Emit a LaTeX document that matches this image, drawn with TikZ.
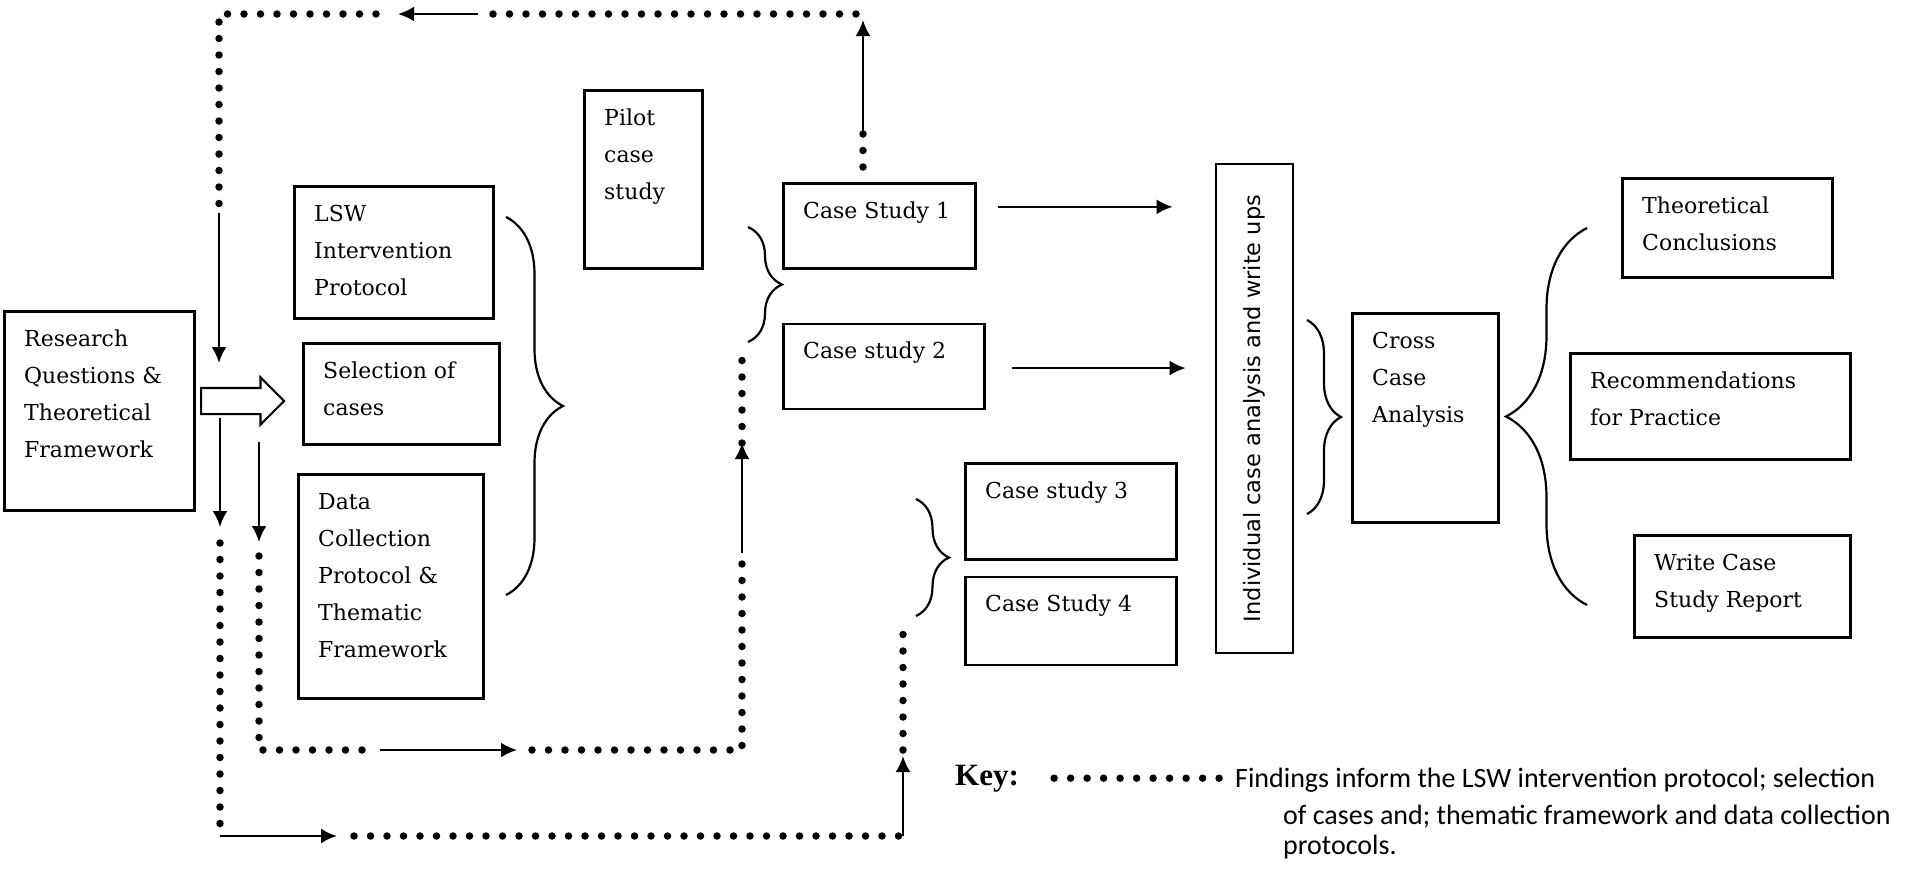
\documentclass[tikz,border=0pt]{standalone}
\usepackage{fontspec}
\setmainfont{DejaVu Serif}
\newfontfamily\notefont{Carlito}
\newfontfamily\sidefont{DejaVu Sans}
\newfontfamily\keyfont{Liberation Serif}
\usetikzlibrary{shapes.arrows,arrows.meta,positioning,decorations.pathreplacing}
\tikzset{block/.style={draw, 
                       rectangle, 
                       line width=2.7pt,
                       anchor=north west,
                       inner sep=0pt},
         boxtext/.style={anchor=north west,
                         align=left,
                         inner xsep=21pt,
                         inner ysep=10pt,
                         font=\fontsize{22}{37}\selectfont},
         link/.style={->, line width=2.5pt},
         dotline/.style={line width=7.5pt, line cap=round, dash pattern=on 0pt off 16.5pt},
         curly/.style={decorate, line width=2.2pt},
         input/.style={coordinate}}

\begin{document}
\begin{tikzpicture}[auto,>={Latex[length=16pt,width=15pt]},x=1pt,y=-1pt]
    \path[use as bounding box, fill=white] (0,0) rectangle (1928,868);
    % We start by placing the blocks
    \node [block, minimum width=190pt, minimum height=199pt,
           label={[boxtext]north west:{\strut Research\\Questions \&\\Theoretical\\Framework}}] (res) at (3,310) {};
    \node [single arrow, draw, line width=2.2pt, minimum height=83pt, inner xsep=0pt, inner ysep=12pt,
           single arrow head extend=10.5pt, anchor=tail] (push) at (200,401) {};
    \node [block, minimum width=199pt, minimum height=132pt,
           label={[boxtext]north west:{\strut LSW\\Intervention\\Protocol}}] (lsw) at (293,185) {};
    \node [block, minimum width=196pt, minimum height=101pt,
           label={[boxtext]north west:{\strut Selection of\\cases}}] (sel) at (302,342) {};
    \node [block, minimum width=185pt, minimum height=224pt,
           label={[boxtext]north west:{\strut Data\\Collection\\Protocol \&\\Thematic\\Framework}}] (data) at (297,473) {};
    \node [block, minimum width=118pt, minimum height=178pt,
           label={[boxtext]north west:{\strut Pilot\\case\\study}}] (pilot) at (583,89) {};
    \node [block, minimum width=192pt, minimum height=85pt,
           label={[boxtext]north west:{\strut Case Study 1}}] (cs1) at (782,182) {};
    \node [block, below=53pt of cs1.south west, anchor=north west, minimum width=201pt, minimum height=85pt,
           label={[boxtext]north west:{\strut Case study 2}}] (cs2) {};
    \node [block, minimum width=211pt, minimum height=96pt,
           label={[boxtext]north west:{\strut Case study 3}}] (cs3) at (964,462) {};
    \node [block, below=15pt of cs3.south west, anchor=north west, minimum width=211pt, minimum height=88pt,
           label={[boxtext]north west:{\strut Case Study 4}}] (cs4) {};
    \node [block, anchor=center, rotate=90, minimum width=489pt, minimum height=77pt,
           font=\sidefont\fontsize{22.5}{27}\selectfont] (ind) at (1254.5,408.5) {Individual case analysis and write ups};
    \node [block, minimum width=146pt, minimum height=209pt,
           label={[boxtext]north west:{\strut Cross\\Case\\Analysis}}] (cross) at (1351,312) {};
    \node [block, minimum width=210pt, minimum height=99pt,
           label={[boxtext]north west:{\strut Theoretical\\Conclusions}}] (theo) at (1621,177) {};
    \node [block, minimum width=280pt, minimum height=106pt,
           label={[boxtext]north west:{\strut Recommendations\\for Practice}}] (rec) at (1569,352) {};
    \node [block, minimum width=216pt, minimum height=102pt,
           label={[boxtext]north west:{\strut Write Case\\Study Report}}] (write) at (1633,534) {};
    % Braces
    \draw [curly, decoration={brace, amplitude=57pt}] (506,217) -- (506,595);
    \draw [curly, decoration={brace, amplitude=34pt}] (748,227) -- (748,342);
    \draw [curly, decoration={brace, amplitude=33pt}] (916,499) -- (916,616);
    \draw [curly, decoration={brace, amplitude=34pt}] (1307,320) -- (1307,514);
    \draw [curly, decoration={brace, amplitude=81pt}] (1587,605) -- (1587,228);
    % We draw an edge from the case studies to the write ups
    \draw [link, shorten <=21pt, shorten >=42pt] ([yshift=19pt]cs1.east) -- ([yshift=19pt]cs1.east -| ind.north);
    \draw [link, shorten <=26pt, shorten >=29pt] ([yshift=-1.5pt]cs2.east) -- ([yshift=-1.5pt]cs2.east -| ind.north);
    % Feedback loop from the first case study
    \node [input, name=up1] at (863,167) {};
    \node [input, name=up2] at (863,132) {};
    \node [input, name=up3] at (863,20) {};
    \node [input, name=tr] at (856,14) {};
    \node [input, name=t1] at (478,14) {};
    \node [input, name=t2] at (398,14) {};
    \node [input, name=t3] at (376,14) {};
    \node [input, name=tl] at (219,14) {};
    \node [input, name=l1] at (219,213) {};
    \node [input, name=l2] at (219,363) {};
    \draw [dotline] (up1) -- (up2);
    \draw [link] (up2) -- (up3);
    \draw [dotline] (tr) -- (t1);
    \draw [link] (t1) -- (t2);
    \draw [dotline] (t3) -- (tl) -- (l1);
    \draw [link] (l1) -- (l2);
    % Loop to case studies 3 and 4
    \node [input, name=b0] at (220,418) {};
    \node [input, name=b1] at (220,527) {};
    \node [input, name=b2] at (220,543) {};
    \node [input, name=bl] at (220,836) {};
    \node [input, name=b3] at (337,836) {};
    \node [input, name=b4] at (354,836) {};
    \node [input, name=br] at (903,836) {};
    \node [input, name=b5] at (903,756) {};
    \node [input, name=b6] at (903,750) {};
    \node [input, name=b7] at (903,622) {};
    \draw [link] (b0) -- (b1);
    \draw [dotline] (b2) -- (bl);
    \draw [link] (bl) -- (b3);
    \draw [dotline] (b4) -- (br);
    \draw [link] (br) -- (b5);
    \draw [dotline] (b6) -- (b7);
    % Loop to case studies 1 and 2
    \node [input, name=c0] at (259,442) {};
    \node [input, name=c1] at (259,542) {};
    \node [input, name=c2] at (259,556) {};
    \node [input, name=cl] at (259,750) {};
    \node [input, name=c3] at (370,750) {};
    \node [input, name=c4] at (380,750) {};
    \node [input, name=c5] at (517,750) {};
    \node [input, name=c6] at (532,750) {};
    \node [input, name=cr] at (742,750) {};
    \node [input, name=c7] at (742,553) {};
    \node [input, name=c8] at (742,443) {};
    \node [input, name=c9] at (742,345) {};
    \draw [link] (c0) -- (c1);
    \draw [dotline] (c2) -- (cl) -- (c3);
    \draw [link] (c4) -- (c5);
    \draw [dotline] (c6) -- (cr) -- (c7);
    \draw [link] (c7) -- (c8);
    \draw [dotline] (c8) -- (c9);
    % Key
    \node [anchor=base west, inner sep=0pt, font=\keyfont\bfseries\fontsize{31}{37}\selectfont] (key) at (955,785) {Key:};
    \node [anchor=north west, inner sep=0pt, align=left, font=\notefont\fontsize{28}{30}\selectfont] (note) at (1235,768)
          {Findings inform the LSW intervention protocol; selection\\[7pt]\hspace*{48pt}of cases and; thematic framework and data collection\\\hspace*{48pt}protocols.};
    \draw [dotline, shorten <=35pt] (key.east) -- (key.east -| note.west);
\end{tikzpicture}
\end{document}
